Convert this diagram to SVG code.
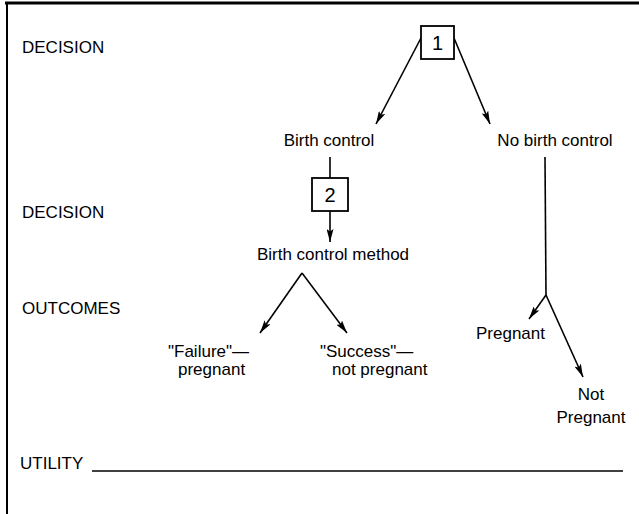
<svg xmlns="http://www.w3.org/2000/svg" width="639" height="514" viewBox="0 0 639 514">
<defs>
<marker id="ah" viewBox="0 0 13 7" refX="13" refY="3.5" markerWidth="13" markerHeight="7" markerUnits="userSpaceOnUse" orient="auto">
<path d="M0,0 L13,3.5 L0,7 L2.5,3.5 Z" fill="#000"/>
</marker>
<style>
text{font-family:"Liberation Sans",Arial,sans-serif;font-size:17px;fill:#000}
.m{text-anchor:middle}
.num{font-size:20px}
.ln{stroke:#000;stroke-width:1.6;fill:none}
.box{fill:#fff;stroke:#000;stroke-width:1.8}
</style>
</defs>
<rect width="639" height="514" fill="#fff"/>
<g id="frame">
<line x1="5" y1="3" x2="639" y2="3" stroke="#000" stroke-width="3"/>
<line x1="7" y1="2" x2="7" y2="514" stroke="#000" stroke-width="2"/>
</g>
<g id="labels">
<text x="22" y="53">DECISION</text>
<text x="22" y="218">DECISION</text>
<text x="22" y="314">OUTCOMES</text>
<text x="20" y="469">UTILITY</text>
<line x1="92" y1="471" x2="623" y2="471" stroke="#000" stroke-width="1.6"/>
</g>
<g id="connectors">
<line class="ln" x1="421" y1="38" x2="376" y2="124" marker-end="url(#ah)"/>
<line class="ln" x1="454" y1="38" x2="490" y2="124" marker-end="url(#ah)"/>
<line class="ln" x1="330" y1="157" x2="330" y2="178"/>
<line class="ln" x1="330" y1="211" x2="330" y2="242" marker-end="url(#ah)"/>
<line class="ln" x1="302" y1="273" x2="260" y2="333" marker-end="url(#ah)"/>
<line class="ln" x1="302" y1="273" x2="347" y2="333" marker-end="url(#ah)"/>
<line class="ln" x1="545" y1="157" x2="546" y2="295"/>
<line class="ln" x1="546" y1="295" x2="529" y2="319" marker-end="url(#ah)"/>
<line class="ln" x1="546" y1="295" x2="583" y2="377" marker-end="url(#ah)"/>
</g>
<g id="node1">
<rect class="box" x="421" y="26" width="33" height="33"/>
<text class="m num" x="437.5" y="50">1</text>
</g>
<g id="birth-control">
<text class="m" x="329" y="146">Birth control</text>
</g>
<g id="no-birth-control">
<text class="m" x="555" y="146">No birth control</text>
</g>
<g id="node2">
<rect class="box" x="312" y="178" width="36" height="33"/>
<text class="m num" x="330" y="202">2</text>
</g>
<g id="birth-control-method">
<text class="m" x="333" y="260">Birth control method</text>
</g>
<g id="failure">
<text x="168" y="357">"Failure"—</text>
<text x="178" y="375">pregnant</text>
</g>
<g id="success">
<text x="320" y="357">"Success"—</text>
<text x="332" y="375">not pregnant</text>
</g>
<g id="pregnant">
<text x="476" y="339">Pregnant</text>
</g>
<g id="not-pregnant">
<text class="m" x="591" y="400">Not</text>
<text class="m" x="591" y="423">Pregnant</text>
</g>
</svg>
